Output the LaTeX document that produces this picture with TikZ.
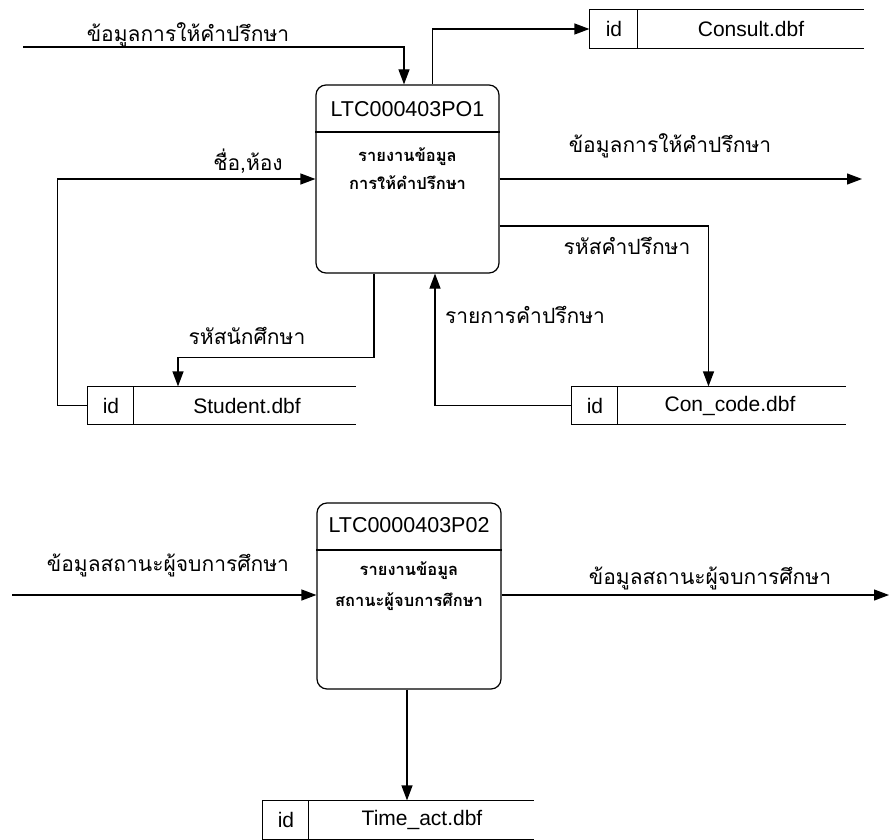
\documentclass[tikz,border=0pt]{standalone}
\usepackage{fontspec}
\setmainfont{Liberation Sans}
\newfontfamily\thai[Script=Thai]{Loma}
\usetikzlibrary{arrows.meta,calc}
\begin{document}
\begin{tikzpicture}[x=1pt,y=-1pt,line width=1.2pt,
  arr/.style={-{Triangle[length=15pt,width=11pt]}},
  procbox/.style={draw,rounded corners=10pt,inner sep=0pt},
  storebox/.style={inner sep=0pt,minimum height=37pt},
  idtext/.style={font=\fontsize{21}{24}\selectfont,inner sep=0pt},
  dbtext/.style={font=\fontsize{21}{24}\selectfont,inner sep=0pt},
  ptitle/.style={font=\fontsize{21.5}{24}\selectfont,inner sep=0pt},
  pbody/.style={font=\thai\bfseries\fontsize{16.5}{20}\selectfont,inner sep=0pt},
  lab/.style={font=\thai\fontsize{21}{24}\selectfont,inner sep=0pt}
]
\useasboundingbox (0,0) rectangle (891,840);

% ---------- processes ----------
\node[procbox,minimum width=183pt,minimum height=188pt] (p1) at (407.5,179) {};
\draw (p1.west |- 0,132) -- (p1.east |- 0,132);
\node[ptitle] (p1t) at (407.5,109) {LTC000403PO1};
\node[pbody] (p1a) at (407.5,157) {รายงานข้อมูล};
\node[pbody] (p1b) at (407.5,183) {การให้คำปรึกษา};

\node[procbox,minimum width=184pt,minimum height=186pt] (p2) at (409,596) {};
\draw (p2.west |- 0,550) -- (p2.east |- 0,550);
\node[ptitle] (p2t) at (409,525) {LTC0000403P02};
\node[pbody] (p2a) at (409,571) {รายงานข้อมูล};
\node[pbody] (p2b) at (409,602) {สถานะผู้จบการศึกษา};

% ---------- data stores ----------
\newcommand{\storelines}[2]{%
  \draw (#1.north east) -- (#1.north west) -- (#1.south west) -- (#1.south east);
  \draw ($(#1.north west)+(#2,0)$) -- ($(#1.south west)+(#2,0)$);}

\node[storebox,minimum width=273pt,minimum height=38pt] (consult) at (726.5,29) {};
\storelines{consult}{48}
\node[idtext] (consultid) at (614,29) {id};
\node[dbtext] (consultn) at (751,29) {Consult.dbf};

\node[storebox,minimum width=267pt] (student) at (221.5,405.5) {};
\storelines{student}{46}
\node[idtext] (studentid) at (111,405.5) {id};
\node[dbtext] (studentn) at (247,405.5) {Student.dbf};

\node[storebox,minimum width=273pt] (concode) at (708.5,405.5) {};
\storelines{concode}{46}
\node[idtext] (concodeid) at (595,405.5) {id};
\node[dbtext] (concoden) at (730,405.5) {Con\_code.dbf};

\node[storebox,minimum width=270pt,minimum height=38pt] (timeact) at (398,820) {};
\storelines{timeact}{46}
\node[idtext] (timeactid) at (286,820) {id};
\node[dbtext] (timeactn) at (422,820) {Time\_act.dbf};

% ---------- free ends ----------
\coordinate (in1) at (23,47);
\coordinate (out1) at (862,179);
\coordinate (in2) at (12,595);
\coordinate (out2) at (889,595);

% ---------- connectors ----------
\draw[arr] (in1) -| ([xshift=-3.5pt]p1.north);
\draw[arr] ([xshift=25pt]p1.north) |- (consult.west);
\draw[arr] (student.west) -- ++(-30,0) |- (p1.west);
\draw[arr] ([xshift=-33.5pt]p1.south) -- ++(0,84) -| ([xshift=-43.5pt]student.north);
\draw[arr] (concode.west) -| ([xshift=27.5pt]p1.south);
\draw[arr] ($(p1.east)+(0,47)$) -| (concode.north);
\draw[arr] (p1.east) -- (out1);

\draw[arr] (in2) -- (in2 -| p2.west);
\draw[arr] (p2.east |- out2) -- (out2);
\draw[arr] ([xshift=-2pt]p2.south) -- ([xshift=-2pt]p2.south |- timeact.north);

% ---------- labels ----------
\node[lab] (l1) at (188,35) {ข้อมูลการให้คำปรึกษา};
\node[lab] (l2) at (248,161) {ชื่อ,ห้อง};
\node[lab] (l3) at (670,146) {ข้อมูลการให้คำปรึกษา};
\node[lab] (l4) at (627,246) {รหัสคำปรึกษา};
\node[lab] (l5) at (247,336) {รหัสนักศึกษา};
\node[lab] (l6) at (525,315) {รายการคำปรึกษา};
\node[lab] (l7) at (168,565) {ข้อมูลสถานะผู้จบการศึกษา};
\node[lab] (l8) at (710,578) {ข้อมูลสถานะผู้จบการศึกษา};
\end{tikzpicture}
\end{document}
